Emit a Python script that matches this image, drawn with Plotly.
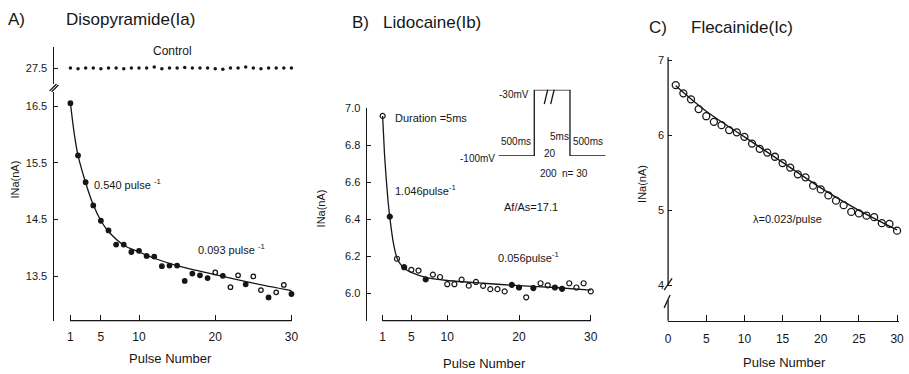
import plotly.graph_objects as go

W, H = 909, 374

# ---------------- data ----------------
pulses = list(range(1, 31))

control_A = [27.50, 27.49, 27.50, 27.50, 27.49, 27.50, 27.50, 27.49, 27.50, 27.50,
             27.50, 27.52, 27.49, 27.50, 27.50, 27.51, 27.50, 27.50, 27.50, 27.49,
             27.48, 27.50, 27.50, 27.52, 27.50, 27.49, 27.50, 27.50, 27.50, 27.50]

disopyramide = [16.55, 15.63, 15.16, 14.75, 14.48, 14.31, 14.06, 14.06, 13.93, 13.95,
                13.86, 13.85, 13.68, 13.69, 13.69, 13.42, 13.55, 13.52, 13.47, 13.57,
                13.51, 13.31, 13.52, 13.36, 13.50, 13.26, 13.13, 13.22, 13.35, 13.19]
dis_open = [20, 22, 23, 25, 26, 28, 29]
fitA_x = [1, 1.5, 2, 3, 4, 5, 6, 8, 10, 12, 15, 20, 25, 30]
fitA_y = [16.55, 16.02, 15.63, 15.15, 14.76, 14.48, 14.29, 14.05, 13.93, 13.82, 13.69, 13.53, 13.38, 13.25]

lidocaine = [6.96, 6.414, 6.186, 6.14, 6.126, 6.122, 6.074, 6.10, 6.087, 6.048,
             6.048, 6.073, 6.04, 6.06, 6.039, 6.021, 6.021, 6.009, 6.044, 6.03,
             5.977, 6.027, 6.053, 6.042, 6.03, 6.023, 6.053, 6.03, 6.053, 6.009]
lido_filled = [2, 4, 7, 19, 20, 22, 25, 26]
fitB_x = [1, 1.25, 1.5, 1.75, 2, 2.5, 3, 3.5, 4, 5, 7, 10, 15, 20, 25, 30]
fitB_y = [6.96, 6.76, 6.62, 6.50, 6.41, 6.27, 6.19, 6.155, 6.135, 6.112, 6.085, 6.068, 6.053, 6.04, 6.03, 6.016]

flecainide = [6.67, 6.56, 6.48, 6.35, 6.255, 6.18, 6.136, 6.07, 6.04, 5.98,
              5.89, 5.82, 5.77, 5.715, 5.63, 5.57, 5.48, 5.44, 5.33, 5.28,
              5.20, 5.13, 5.07, 4.98, 4.96, 4.93, 4.91, 4.83, 4.82, 4.73]
fitC_x = [1, 5, 10, 15, 20, 25, 30]
fitC_y = [6.66, 6.32, 5.98, 5.64, 5.30, 5.00, 4.74]

# voltage protocol schematic (inset in B)
protocol_t = [0, 1, 1, 2, 2, 3]
protocol_v = [-100, -100, -30, -30, -100, -100]

ticksA = [13.5, 14.5, 15.5, 16.5]
ticksA_top = [27.5]
ticksB = [6.0, 6.2, 6.4, 6.6, 6.8, 7.0]
ticksC = [4, 5, 6, 7]
xticksAB = [1, 5, 10, 20, 30]
xticksC = [0, 5, 10, 15, 20, 25, 30]

# ---------------- helpers ----------------
def px(x):
    return x / W

def py(y):
    return 1 - y / H

NARROW = "Liberation Sans, Arial, sans-serif"
SANS = "Liberation Sans, Arial, Helvetica, sans-serif"
INK = "#161616"

fig = go.Figure()

# Panel A
fig.add_trace(go.Scatter(x=pulses, y=control_A, xaxis="x", yaxis="y2", mode="markers",
                         marker=dict(size=3.5, color=INK), cliponaxis=False))
fig.add_trace(go.Scatter(x=fitA_x, y=fitA_y, xaxis="x", yaxis="y", mode="lines",
                         line=dict(color=INK, width=1.3, shape="spline", smoothing=0.8)))
symA = ["circle-open" if p in dis_open else "circle" for p in pulses]
fig.add_trace(go.Scatter(x=pulses, y=disopyramide, xaxis="x", yaxis="y", mode="markers",
                         marker=dict(size=4.5, color=INK, symbol=symA, line=dict(width=1.3, color=INK)),
                         cliponaxis=False))

# Panel B
fig.add_trace(go.Scatter(x=fitB_x, y=fitB_y, xaxis="x2", yaxis="y3", mode="lines",
                         line=dict(color=INK, width=1.3, shape="spline", smoothing=0.6)))
symB = ["circle" if p in lido_filled else "circle-open" for p in pulses]
fig.add_trace(go.Scatter(x=pulses, y=lidocaine, xaxis="x2", yaxis="y3", mode="markers",
                         marker=dict(size=5, color=INK, symbol=symB, line=dict(width=1.2, color=INK)),
                         cliponaxis=False))

# Panel C
fig.add_trace(go.Scatter(x=fitC_x, y=fitC_y, xaxis="x3", yaxis="y4", mode="lines",
                         line=dict(color=INK, width=1.3, shape="spline")))
fig.add_trace(go.Scatter(x=pulses, y=flecainide, xaxis="x3", yaxis="y4", mode="markers",
                         marker=dict(size=7, color=INK, symbol="circle-open", line=dict(width=1.3, color=INK)),
                         cliponaxis=False))

# Inset protocol
fig.add_trace(go.Scatter(x=protocol_t, y=protocol_v, xaxis="x4", yaxis="y5", mode="lines",
                         line=dict(color=INK, width=1.3), cliponaxis=False))

def xax(domain, rng, anchor, tickvals, showline=False):
    return dict(domain=domain, range=rng, anchor=anchor, showgrid=False, zeroline=False,
                showline=showline, linecolor=INK, linewidth=1.3,
                ticks="inside", ticklen=6, tickwidth=1.2, tickcolor=INK,
                tickvals=tickvals, ticktext=[str(v) for v in tickvals],
                ticklabelstandoff=7,
                tickfont=dict(family=NARROW, size=12, color=INK))

def yax(domain, rng, anchor, tickvals, fmt, showline=True):
    return dict(domain=domain, range=rng, anchor=anchor, showgrid=False, zeroline=False,
                showline=showline, linecolor=INK, linewidth=1.3,
                ticks="inside", ticklen=4, tickwidth=1.2, tickcolor=INK,
                tickvals=tickvals, ticktext=[fmt.format(v) for v in tickvals],
                ticklabelstandoff=3,
                tickfont=dict(family=NARROW, size=11, color=INK))

layout = dict(
    width=W, height=H, margin=dict(l=0, r=0, t=0, b=0),
    paper_bgcolor="white", plot_bgcolor="rgba(0,0,0,0)", showlegend=False,
    xaxis=xax([px(51), px(296)], [-1.21, 30.65], "y", xticksAB),
    yaxis=yax([py(320), py(88)], [12.72, 16.75], "x", ticksA, "{:.1f}"),
    yaxis2=yax([py(80), py(43)], [27.22, 27.865], "x", ticksA_top, "{:.1f}"),
    xaxis2=xax([px(367), px(598)], [-1.21, 30.69], "y3", xticksAB),
    yaxis3=yax([py(320), py(104)], [5.85, 7.005], "x2", ticksB, "{:.1f}"),
    xaxis3=xax([px(671), px(904)], [0, 30.26], "y4", xticksC, showline=True),
    yaxis4=yax([py(320), py(53)], [3.53, 7.04], "x3", ticksC, "{:d}", showline=False),
    xaxis4=dict(domain=[px(500), px(608)], range=[0, 3], anchor="y5", visible=False),
    yaxis5=dict(domain=[py(153), py(86)], range=[-100, -30], anchor="x4", visible=False),
)

shapes = []
line = dict(color=INK, width=1.3)
# detached x axis lines for A and B, spanning the pulse range
for xr, yr in [("x", "y domain"), ("x2", "y3 domain")]:
    shapes.append(dict(type="line", xref=xr, yref=yr, x0=min(pulses), x1=max(pulses), y0=0, y1=0, line=line))
# axis break on A
for dx in (0, 2):
    shapes.append(dict(type="line", xref="paper", yref="paper",
                       x0=px(47 + dx), y0=py(87 + dx * 0.5), x1=px(54 + dx), y1=py(80 + dx * 0.5), line=line))
# C y axis with break
shapes.append(dict(type="line", xref="paper", yref="paper", x0=px(671), x1=px(671), y0=py(53), y1=py(284), line=line))
shapes.append(dict(type="line", xref="paper", yref="paper", x0=px(667), y0=py(289), x1=px(675), y1=py(277), line=line))
shapes.append(dict(type="line", xref="paper", yref="paper", x0=px(667), y0=py(307), x1=px(673), y1=py(294), line=line))
shapes.append(dict(type="line", xref="paper", yref="paper", x0=px(671), x1=px(671), y0=py(299), y1=py(320), line=line))
# break marks on the inset pulse
for t0 in (1.28, 1.46):
    shapes.append(dict(type="line", xref="x4", yref="y5", x0=t0, y0=-45, x1=t0 + 0.16, y1=-20, line=line))
layout["shapes"] = shapes

ann = []
def note(text, x, y, size=12, family=NARROW, xanchor="left", angle=0):
    ann.append(dict(text=text, x=px(x), y=py(y), xref="paper", yref="paper", showarrow=False,
                    xanchor=xanchor, yanchor="middle", textangle=angle,
                    font=dict(family=family, size=size, color=INK)))

# titles
note("A)", 3, 15, 17, SANS)
note("Disopyramide(Ia)", 62, 15, 17, SANS)
note("B)", 350, 18, 17, SANS)
note("Lidocaine(Ib)", 381, 18, 17, SANS)
note("C)", 650, 23, 17, SANS)
note("Flecainide(Ic)", 692, 23, 17, SANS)
# axis titles
for cx, cy in [(169, 358), (486, 363), (788, 362)]:
    note("Pulse Number", cx, cy, 13, NARROW, "center")
for cx, cy in [(12, 177), (321, 206), (644, 181)]:
    note("INa(nA)", cx, cy, 11, NARROW, "center", -90)
# panel A notes
note("Control", 171, 47, 12, NARROW, "center")
note("0.540 pulse <sup>-1</sup>", 90, 181, 11)
note("0.093 pulse <sup>-1</sup>", 195, 247, 11)
# panel B notes
note("Duration =5ms", 393, 115, 11)
note("1.046pulse<sup>-1</sup>", 393, 188, 11)
note("Af/As=17.1", 503, 205, 11)
note("0.056pulse<sup>-1</sup>", 497, 255, 11)
note("-30mV", 533, 91, 10, NARROW, "right")
note("-100mV", 498, 156, 10, NARROW, "right")
note("500ms", 518, 138, 10, NARROW, "center")
note("5ms", 561, 133, 10, NARROW, "center")
note("500ms", 590, 138, 10, NARROW, "center")
note("20", 552, 151, 10, NARROW, "center")
note("200", 550, 171, 10, NARROW, "center")
note("n= 30", 562, 171, 10)
# panel C note
note("λ=0.023/pulse", 755, 217, 11)
layout["annotations"] = ann

fig.update_layout(**layout)
fig.write_html("out.html")
